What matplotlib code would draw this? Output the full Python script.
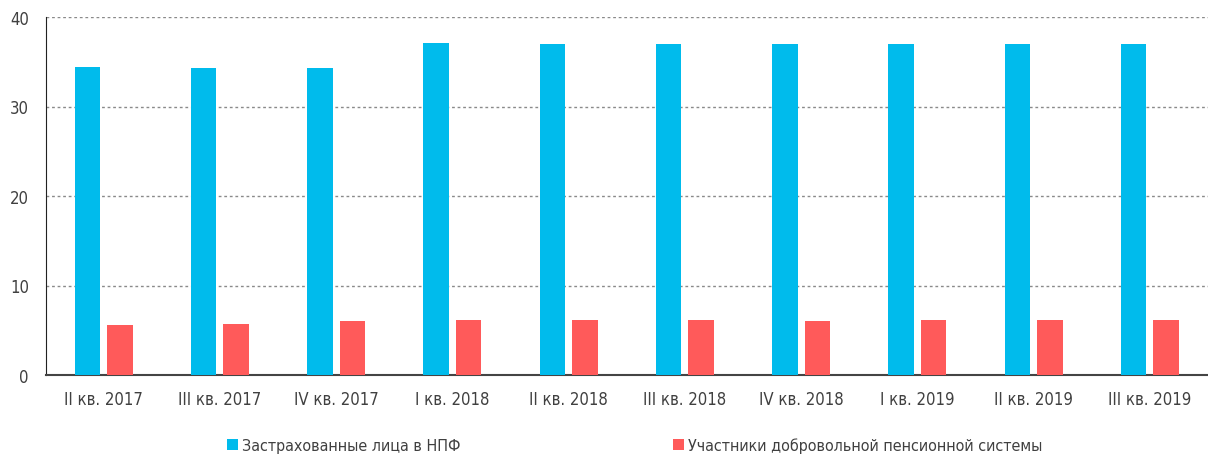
import numpy as np
import matplotlib
matplotlib.use('Agg')
import matplotlib.pyplot as plt

plt.rcParams['font.family'] = ['DejaVu Sans']
plt.rcParams['font.stretch'] = 'condensed'

# данные
quarters = ['II кв. 2017', 'III кв. 2017', 'IV кв. 2017', 'I кв. 2018', 'II кв. 2018',
            'III кв. 2018', 'IV кв. 2018', 'I кв. 2019', 'II кв. 2019', 'III кв. 2019']
insured = [34.4, 34.35, 34.25, 37.05, 37.0, 37.0, 37.0, 37.0, 37.0, 37.0]
voluntary = [5.6, 5.7, 6.0, 6.15, 6.15, 6.15, 6.05, 6.15, 6.15, 6.15]

blue = '#00BBEC'
red = '#FF5A5A'
txt = '#404040'

fig = plt.figure(figsize=(12.08, 4.56), dpi=100)
ax = fig.add_axes([45.5/1208, 1-376/456, 1-45.5/1208, (376-18)/456])

x = np.arange(len(quarters))
w = 0.22
ax.bar(x - 0.14, insured, w, color=blue, label='Застрахованные лица в НПФ', zorder=3)
ax.bar(x + 0.14, voluntary, w, color=red, label='Участники добровольной пенсионной системы', zorder=3)

ax.set_xlim(-0.5, len(quarters) - 0.5)
ax.set_ylim(0, 40)
ax.set_yticks([0, 10, 20, 30, 40])
ax.set_xticks(x)
ax.set_xticklabels(quarters)
ax.tick_params(axis='both', length=0, labelsize=12, colors=txt)
ax.tick_params(axis='x', pad=11)
ax.tick_params(axis='y', pad=12)

ax.yaxis.grid(True, linestyle=(0, (2, 2)), color='#8a8a8a', linewidth=1)
ax.set_axisbelow(True)
for s in ['top', 'right']:
    ax.spines[s].set_visible(False)
ax.spines['left'].set_color('#222222')
ax.spines['bottom'].set_color('#444444')
ax.spines['bottom'].set_linewidth(1.5)

fig.legend(loc='center', bbox_to_anchor=(635/1208, 1-446/456), ncol=2, frameon=False,
           fontsize=11.5, handlelength=0.65, handleheight=0.65, handletextpad=0.3,
           columnspacing=13.3, labelcolor=txt)

fig.savefig('out.png', dpi=100)
